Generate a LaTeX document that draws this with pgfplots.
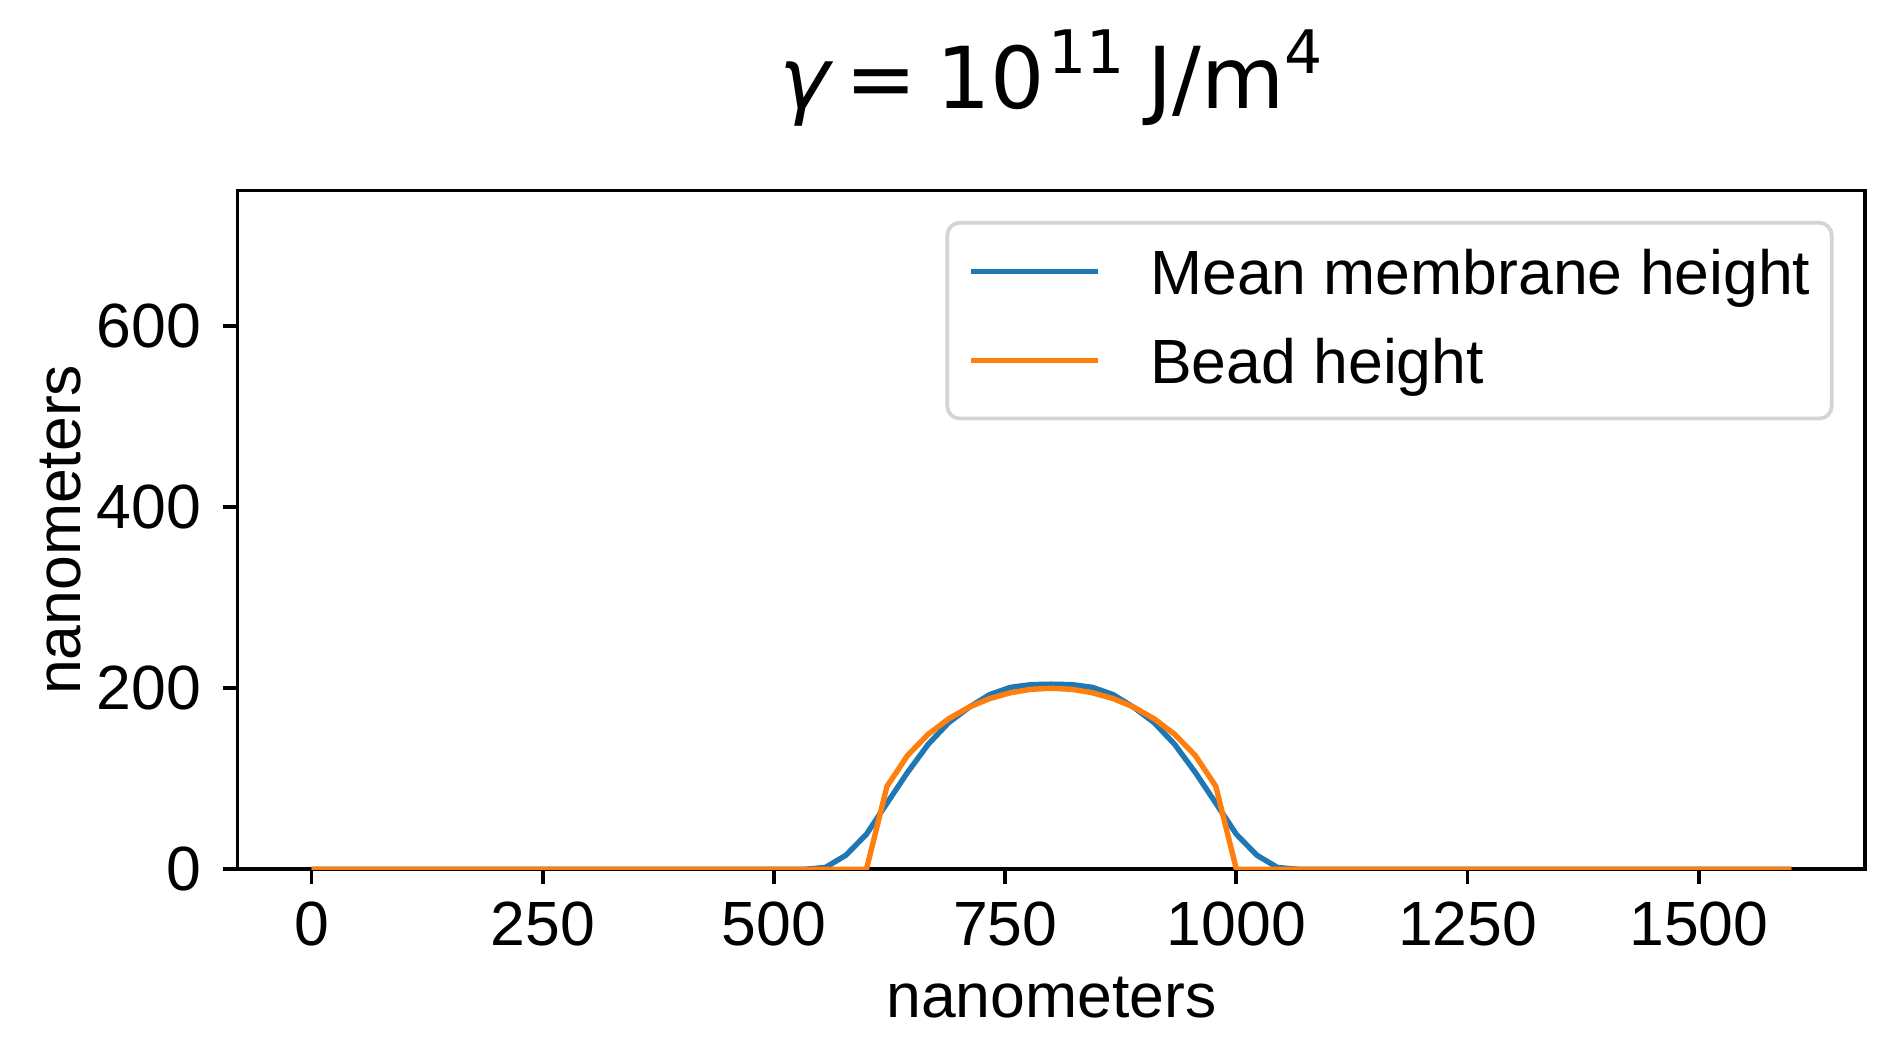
\documentclass[border=0pt]{standalone}
\usepackage{fontspec}
\setmainfont{Liberation Sans}
\newfontfamily\dejavu{DejaVu Sans}
\usepackage{pgfplots}
\pgfplotsset{compat=1.18}
\definecolor{mplblue}{HTML}{1F77B4}
\definecolor{mplorange}{HTML}{FF7F0E}
\definecolor{legedge}{HTML}{D4D4D4}
\begin{document}
\begin{tikzpicture}
\useasboundingbox (-57.0pt,-45.5pt) rectangle (397.5pt,208.6pt);
\begin{axis}[
  at={(0,0)}, anchor=south west,
  scale only axis, width=390.6pt, height=162.9pt,
  xmin=-80, xmax=1680, ymin=0, ymax=750,
  xtick={0,250,500,750,1000,1250,1500},
  ytick={0,200,400,600},
  xtick pos=bottom, ytick pos=left,
  tick align=outside, major tick length=3.5pt,
  every tick/.style={black, line width=0.9pt},
  axis line style={black, line width=0.9pt},
  /pgf/number format/assume math mode=true,
  /pgf/number format/1000 sep={},
  ticklabel style={font=\fontsize{15}{15}\selectfont, inner sep=0pt},
  xticklabel style={anchor=base, yshift=-14.9pt},
  yticklabel style={anchor=east, xshift=-5.0pt},
  every axis x label/.style={at={(axis description cs:0.5,0)}, anchor=base, yshift=-35.6pt, inner sep=0pt, font=\fontsize{15}{15}\selectfont},
  every axis y label/.style={at={(axis description cs:0,0.5)}, xshift=-37.8pt, rotate=90, anchor=base, inner sep=0pt, font=\fontsize{15}{15}\selectfont},
  xlabel={nanometers}, ylabel={nanometers},
  title={\dejavu{\itshape γ}\hspace{3.6pt}=\hspace{4.6pt}10\hspace{0.8pt}\raisebox{8.4pt}{\fontsize{14.4}{14.4}\selectfont 11}\hspace{5.5pt}J/m\raisebox{8.4pt}{\fontsize{14.4}{14.4}\selectfont 4}},
  every axis title/.style={at={(axis description cs:0.5,1)}, anchor=base, yshift=19.7pt, inner sep=0pt, font=\fontsize{20.5}{20.5}\selectfont},
  legend image code/.code={\path (0pt,0pt); \draw[#1] (0pt,1.1pt) -- (30.4pt,1.1pt);},
  legend cell align=left,
  legend style={at={(rel axis cs:1,1)}, anchor=north east, xshift=-7.6pt, yshift=-7.3pt,
    draw=legedge, line width=0.9pt, rounded corners=3pt, fill=white,
    inner xsep=5.1pt, inner ysep=6.4pt, row sep=8.6pt,
    font=\fontsize{15}{15}\selectfont,
    nodes={inner sep=0pt, text height=10.8pt, text depth=2pt},
    /tikz/every odd column/.append style={column sep=11.9pt}},
]
\addplot[mplblue, line width=1.3pt] table {
x y
0 0
533.3 0
555.6 2
577.8 15.5
600 38.7
622.2 73
644.4 107
666.7 138
688.9 162
711.1 179
733.3 193
755.6 201
777.8 204
800 204.5
822.2 204
844.4 201
866.7 193
888.9 179
911.1 162
933.3 138
955.6 107
977.8 73
1000 38.7
1022.2 15.5
1044.4 2
1066.7 0
1600 0
};
\addlegendentry{Mean membrane height}
\addplot[mplorange, line width=1.3pt] table {
x y
0 0
600 0
622.2 91.6
644.4 125.7
666.7 149.1
688.9 166.3
711.1 179.2
733.3 188.6
755.6 195.0
777.8 198.8
800 200
822.2 198.8
844.4 195.0
866.7 188.6
888.9 179.2
911.1 166.3
933.3 149.1
955.6 125.7
977.8 91.6
1000 0
1600 0
};
\addlegendentry{Bead height}
\end{axis}
\end{tikzpicture}
\end{document}
